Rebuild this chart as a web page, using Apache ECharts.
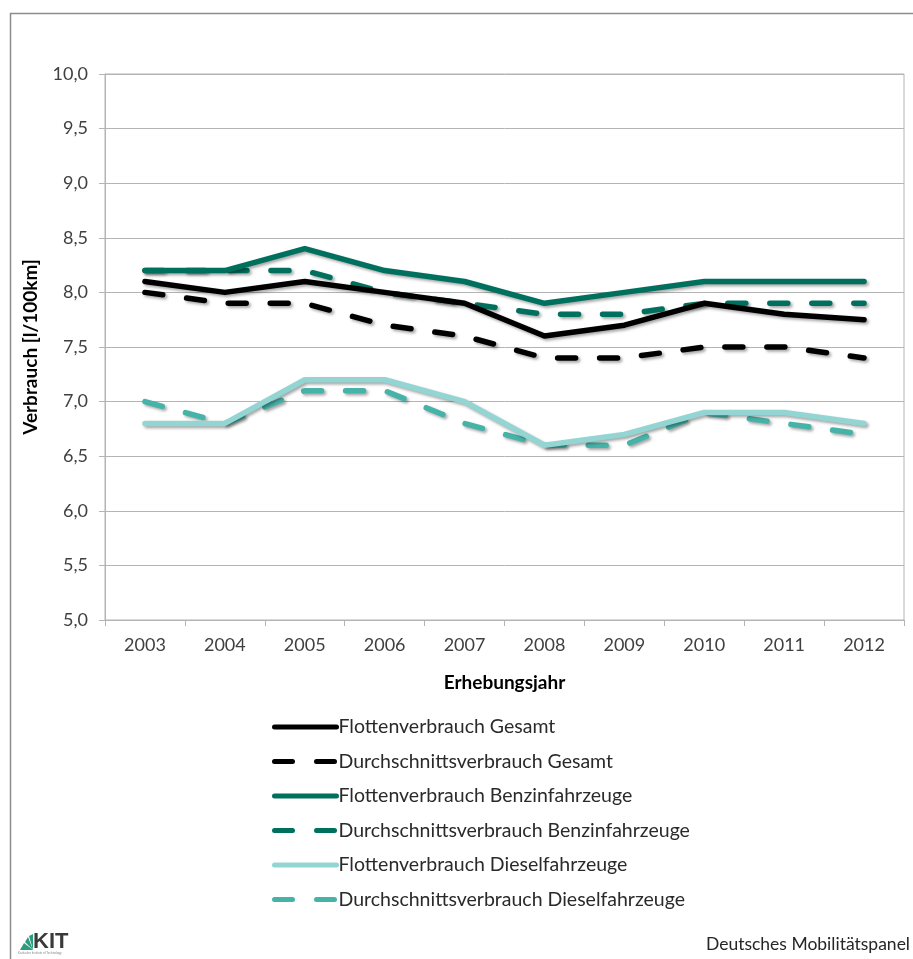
<!DOCTYPE html>
<html><head><meta charset="utf-8">
<script src="https://cdn.jsdelivr.net/npm/echarts@6/dist/echarts.min.js"></script>
<style>html,body{margin:0;padding:0;background:#fff}#c{width:913px;height:959px}</style>
</head><body><div id="c"></div>
<script>
const years = ['2003','2004','2005','2006','2007','2008','2009','2010','2011','2012'];
const flottenGesamt = [8.1, 8.0, 8.1, 8.0, 7.9, 7.6, 7.7, 7.9, 7.8, 7.75];
const durchschnittGesamt = [8.0, 7.9, 7.9, 7.7, 7.6, 7.4, 7.4, 7.5, 7.5, 7.4];
const flottenBenzin = [8.2, 8.2, 8.4, 8.2, 8.1, 7.9, 8.0, 8.1, 8.1, 8.1];
const durchschnittBenzin = [8.2, 8.2, 8.2, 8.0, 7.9, 7.8, 7.8, 7.9, 7.9, 7.9];
const flottenDiesel = [6.8, 6.8, 7.2, 7.2, 7.0, 6.6, 6.7, 6.9, 6.9, 6.8];
const durchschnittDiesel = [7.0, 6.8, 7.1, 7.1, 6.8, 6.6, 6.6, 6.9, 6.8, 6.7];
const seriesNames = ['Flottenverbrauch Gesamt','Durchschnittsverbrauch Gesamt','Flottenverbrauch Benzinfahrzeuge','Durchschnittsverbrauch Benzinfahrzeuge','Flottenverbrauch Dieselfahrzeuge','Durchschnittsverbrauch Dieselfahrzeuge'];
const seriesData = [flottenGesamt, durchschnittGesamt, flottenBenzin, durchschnittBenzin, flottenDiesel, durchschnittDiesel];
const colors = ['#000000','#000000','#00705E','#00705E','#93D5D3','#45B3A8'];
const dashed = [false,true,false,true,false,true];
const FONT = 'Lato, "Open Sans", sans-serif';
const TXT = '#404040';

const chart = echarts.init(document.getElementById('c'), null, {renderer:'canvas'});
const series = seriesNames.map((n,i)=>({
  name:n, type:'line', data:seriesData[i], symbol:'none', z: 10 - i,
  lineStyle:{color:colors[i], width:5.5, type: dashed[i] ? [18,24] : 'solid', cap:'round', join:'round',
    shadowColor:'rgba(0,0,0,0.35)', shadowBlur:3, shadowOffsetX:2, shadowOffsetY:2},
  itemStyle:{color:colors[i]},
  emphasis:{disabled:true}, animation:false
}));
chart.setOption({
  animation:false,
  backgroundColor:'#fff',
  grid:{left:105, right:9, top:74, bottom:339, show:true, borderColor:'#b4b4b4', borderWidth:1},
  xAxis:{type:'category', data:years, boundaryGap:true,
    name:'Erhebungsjahr', nameLocation:'middle', nameGap:53,
    nameTextStyle:{fontFamily:FONT, fontSize:19, fontWeight:'bold', color:'#000'},
    axisLine:{lineStyle:{color:'#b4b4b4'}},
    axisTick:{show:true, length:6, alignWithLabel:false, lineStyle:{color:'#b4b4b4'}},
    axisLabel:{fontFamily:FONT, fontSize:18, color:TXT, margin:16}},
  yAxis:{type:'value', min:5, max:10, interval:0.5,
    name:'Verbrauch [l/100km]', nameLocation:'middle', nameGap:65, nameRotate:90,
    nameTextStyle:{fontFamily:FONT, fontSize:19, fontWeight:'bold', color:'#000'},
    axisLine:{show:true, lineStyle:{color:'#b4b4b4'}},
    axisTick:{show:true, length:6, lineStyle:{color:'#b4b4b4'}},
    splitLine:{lineStyle:{color:'#b4b4b4'}},
    axisLabel:{fontFamily:FONT, fontSize:18, color:TXT, margin:17,
      formatter:v=>v.toFixed(1).replace('.',',')}},
  legend:{orient:'vertical', left:272, top:717, padding:0, itemWidth:62, itemHeight:14, itemGap:14.5,
    data:seriesNames, selectedMode:false,
    itemStyle:{opacity:0},
    lineStyle:{width:5, cap:'round', shadowBlur:0, shadowOffsetX:0, shadowOffsetY:0, shadowColor:'transparent'},
    textStyle:{fontFamily:FONT, fontSize:19.5, color:'#2a2a2a', padding:[0,0,0,-3]}},
  graphic:[
    {type:'rect', left:8, top:11, shape:{width:1000, height:1000}, style:{fill:null, stroke:'#8c8c8c', lineWidth:1.5}, silent:true},
    {type:'text', right:3, top:935, style:{text:'Deutsches Mobilitätspanel', font:'17.5px '+FONT, fill:'#262626'}},
    {type:'polygon', shape:{points:[[33,950],[20,950],[24,943]]}, style:{fill:'#2a9d7d'}},
    {type:'polygon', shape:{points:[[33,950],[25,942],[28,937]]}, style:{fill:'#2a9d7d'}},
    {type:'polygon', shape:{points:[[33,950],[29,936],[33,934]]}, style:{fill:'#2a9d7d'}},
    {type:'text', left:33, top:931, style:{text:'KIT', font:'bold 22px "Liberation Sans", sans-serif', fill:'#3a3a3a'}},
    {type:'text', left:18, top:952, style:{text:'Karlsruhe Institute of Technology', font:'3px sans-serif', fill:'#888'}}
  ],
  series:series
});
</script></body></html>
